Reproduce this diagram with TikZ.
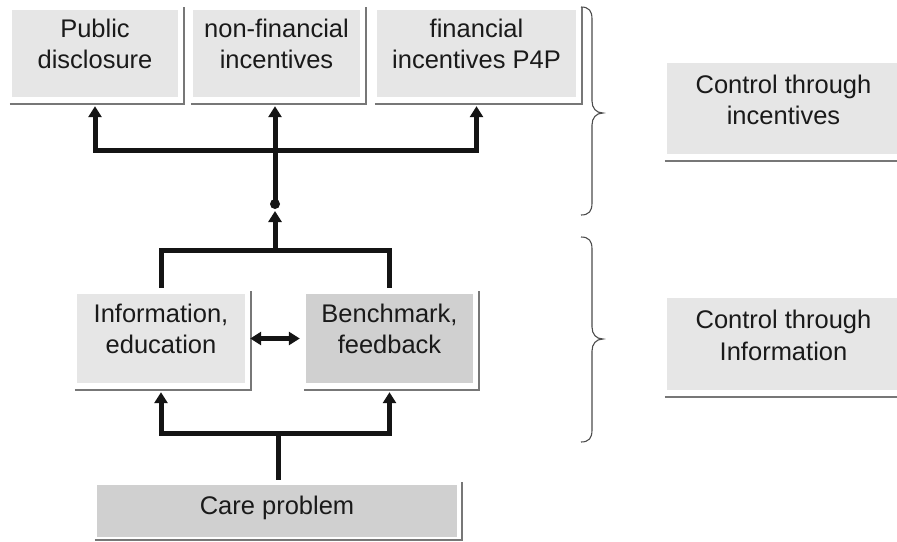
\documentclass[tikz,border=0pt]{standalone}
\usepackage{fontspec}
\setmainfont{Liberation Sans}
\usetikzlibrary{arrows.meta}
\definecolor{boxlight}{HTML}{E6E6E6}
\definecolor{boxdark}{HTML}{D0D0D0}
\definecolor{shadowgray}{HTML}{777777}
\definecolor{txt}{HTML}{1A1A1A}
\definecolor{linecol}{HTML}{141414}
\newcommand\boxshadow[1]{\draw[shadowline] ([xshift=-2pt,yshift=-6.5pt]#1.south west) -| ([xshift=6pt,yshift=3pt]#1.north east);}
\begin{document}
\begin{tikzpicture}[x=1pt,y=-1pt,
  box/.style={rectangle, fill=boxlight, draw=none, inner sep=0pt},
  darkbox/.style={box, fill=boxdark},
  lbl/.style={inner sep=0pt, align=center, text=txt, font=\fontsize{25.5}{31.5}\selectfont},
  conn/.style={line width=5pt, draw=linecol},
  arr/.style={conn, -{Triangle[length=11pt,width=13pt]}},
  dblarr/.style={conn, line width=4.5pt, {Triangle[length=11pt,width=13pt]}-{Triangle[length=11pt,width=13pt]}},
  shadowline/.style={draw=shadowgray, line width=2pt},
  bracestyle/.style={draw=black!70, line width=1.1pt}]
\useasboundingbox (0,0) rectangle (897,541);
\fill[white] (0,0) rectangle (897,541);

% boxes
\node[box, minimum width=166pt, minimum height=87pt] (pub) at (95,53.5) {};
\node[box, minimum width=167pt, minimum height=87pt] (nonfin) at (276.5,53.5) {};
\node[box, minimum width=199pt, minimum height=87pt] (fin) at (476.5,53.5) {};
\node[box, minimum width=168pt, minimum height=89pt] (info) at (161,338.5) {};
\node[darkbox, minimum width=167pt, minimum height=89pt] (bench) at (389.5,338.5) {};
\node[darkbox, minimum width=360pt, minimum height=52pt] (care) at (277,511) {};
\node[box, minimum width=233pt, minimum height=91pt] (cinc) at (783.5,108.5) {};
\node[box, minimum width=233pt, minimum height=92pt] (cinf) at (783.5,344) {};

\boxshadow{pub}
\boxshadow{nonfin}
\boxshadow{fin}
\boxshadow{info}
\boxshadow{bench}
\boxshadow{cinc}
\boxshadow{cinf}
\draw[shadowline] ([xshift=-2pt,yshift=-2.5pt]care.south west) -| ([xshift=5pt,yshift=3pt]care.north east);

% labels
\node[lbl] (pubt) at (95,44) {Public\\disclosure};
\node[lbl] (nonfint) at (276.5,44) {non-financial\\incentives};
\node[lbl] (fint) at (476.5,44) {financial\\incentives P4P};
\node[lbl] (infot) at (161,329) {Information,\\education};
\node[lbl] (bencht) at (389.5,329) {Benchmark,\\feedback};
\node[lbl, anchor=base] (caret) at (277,514) {Care problem};
\node[lbl] (cinct) at (783.5,100) {Control through\\incentives};
\node[lbl] (cinft) at (783.5,335.5) {Control through\\Information};

% junctions
\coordinate (tmid) at (275,150);
\coordinate (mmid) at (275,250);
\coordinate (bmid) at (278,433);
\node[circle, fill=linecol, inner sep=0pt, minimum size=10pt] (dot) at (275,204) {};

% connectors
\draw[conn, shorten >=5pt] (bmid) -- (bmid |- care.north);
\draw[arr] (bmid) -| ([yshift=-9pt]info.south);
\draw[arr] (bmid) -| ([yshift=-9pt]bench.south);
\draw[dblarr] ([xshift=5pt]info.east) -- ([xshift=-6pt]bench.west);
\draw[conn] (mmid) -| ([yshift=6pt]info.north);
\draw[conn] (mmid) -| ([yshift=6pt]bench.north);
\draw[arr, shorten >=7pt] (mmid) -- (dot.center);
\draw[arr, shorten >=9pt] (dot.center) -- (dot.center |- nonfin.south);
\draw[arr] (tmid) -| ([yshift=-9pt]pub.south);
\draw[arr] (tmid) -| ([yshift=-9pt]fin.south);

% braces
\draw[bracestyle] (581,7) .. controls (589,7) and (592,11) .. (592,19) -- (592,101) .. controls (592,108) and (596,113) .. (603,113) .. controls (596,113) and (592,118) .. (592,125) -- (592,203) .. controls (592,211) and (589,215) .. (581,215);
\draw[bracestyle] (581,237) .. controls (589,237) and (592,241) .. (592,249) -- (592,327) .. controls (592,334) and (596,339) .. (603,339) .. controls (596,339) and (592,344) .. (592,351) -- (592,430) .. controls (592,438) and (589,442) .. (581,442);
\end{tikzpicture}
\end{document}
